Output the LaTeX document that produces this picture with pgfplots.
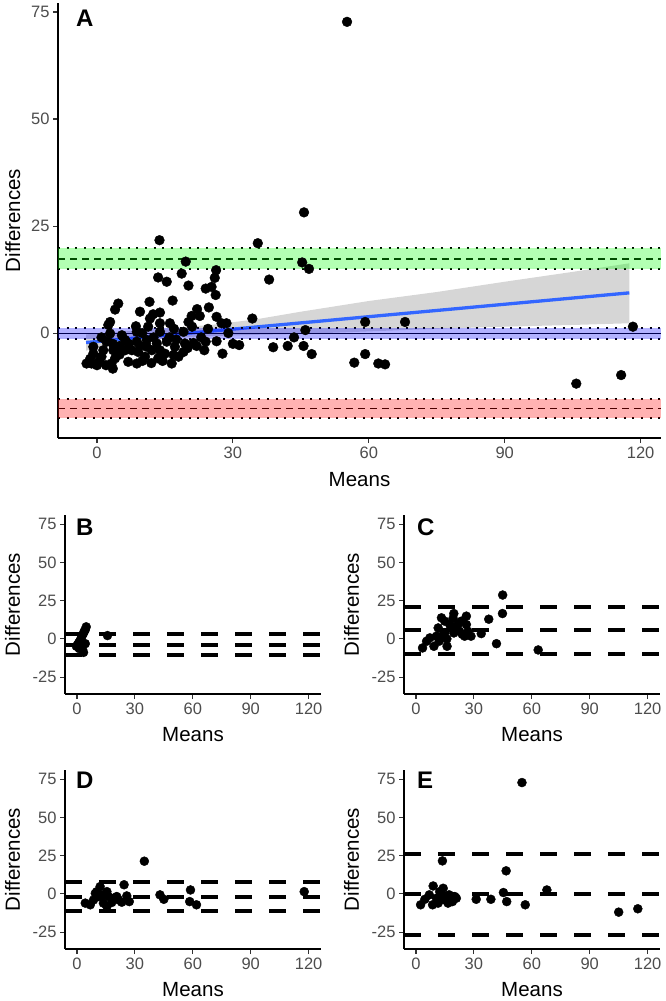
\documentclass[border=0pt]{standalone}
\usepackage{pgfplots}
\pgfplotsset{compat=1.18}
\usepackage{fontspec}
\setmainfont{Liberation Sans}
\definecolor{tickgray}{HTML}{4D4D4D}
\definecolor{smoothblue}{HTML}{3366FF}
\definecolor{bandgreen}{RGB}{0,255,0}
\definecolor{bandblue}{RGB}{0,0,255}
\definecolor{bandred}{RGB}{255,0,0}

\pgfplotsset{
 baseax/.style={
  scale only axis,
  axis lines=left,
  axis line style={-, line width=1.3pt, black},
  tick align=outside,
  major tick length=5pt,
  tick style={line width=1.1pt, color=black!80},
  xtick={0,30,60,90,120},
  tick label style={font=\fontsize{16.5}{16.5}\selectfont, color=tickgray},
  /pgf/number format/assume math mode=true,
  label style={font=\fontsize{20.5}{20.5}\selectfont, color=black},
  xlabel={Means}, ylabel={Differences},
  xlabel style={anchor=base},
  ylabel style={anchor=base},
 },
 smallax/.style={
  baseax,
  width=256pt, height=179pt,
  xmin=-6.2, xmax=126.4, ymin=-36, ymax=81,
  ytick={-25,0,25,50,75},
  yticklabels={-25,0,25,50,75},
  xlabel style={at={(axis description cs:0.5,-0.263)}},
  ylabel style={at={(axis description cs:-0.176,0.5)}},
 },
 dots/.style={only marks, mark=*, mark size=4.5pt, mark options={fill=black, draw=none}},
 bigdash/.style={black, line width=4pt, dash pattern=on 17pt off 17pt},
}

\begin{document}
\begin{tikzpicture}
\useasboundingbox (0,0) rectangle (666pt,-1001pt);

% ---------------- Panel A ----------------
\begin{axis}[baseax,
  at={(58pt,-438pt)}, anchor=south west,
  width=603pt, height=435pt,
  xmin=-8.6, xmax=124.5, ymin=-24.5, ymax=77.1,
  ytick={0,25,50,75},
  xlabel style={at={(axis description cs:0.5,-0.112)}},
  ylabel style={at={(axis description cs:-0.063,0.5)}},
]
\addplot[dots, mark size=4.9pt] coordinates {
(55.2,72.7) (45.7,28.2) (13.8,21.7) (35.5,21.0) (19.6,16.7) (45.3,16.5) (46.8,15.0)
(26.3,14.7) (18.7,13.9) (13.5,13.0) (15.4,12.0) (26.0,12.9) (38.0,12.5) (20.2,11.1)
(24.0,10.4) (25.3,10.8) (26.2,8.9) (4.7,6.9) (4.0,5.5) (11.6,7.3) (16.7,7.6) (9.5,5.0)
(22.1,5.6) (24.7,6.0) (20.9,4.0) (22.7,4.0) (12.4,4.4) (13.9,4.8) (20.2,2.6) (2.9,2.6)
(2.5,1.9) (11.7,3.4) (8.6,1.6) (11.3,1.5) (13.9,2.3) (16.1,2.3) (26.4,3.8) (27.5,2.3)
(28.6,2.3) (34.3,3.4) (2.9,-0.1) (6.2,-1.6) (8.8,0.3) (13.9,0.3) (19.1,0.3) (21.3,-2.3)
(26.4,-1.9) (23.7,-4.0) (27.7,-4.8) (31.4,-2.8) (38.9,-3.3) (42.1,-3.0) (43.5,-1.0)
(45.6,-3.0) (47.4,-4.9) (46.0,0.7) (56.8,-6.9) (59.2,-4.9) (62.1,-7.1) (63.6,-7.3)
(59.2,2.6) (68.0,2.6) (105.8,-11.8) (115.7,-9.8) (118.3,1.5)
(-2.3,-7.1) (-1.2,-7.1) (0.0,-7.5) (1.0,-5.5) (-0.8,-4.8) (1.4,-4.0) (3.2,-7.1)
(3.5,-8.3) (4.0,-5.9) (3.6,-4.0) (6.9,-6.7) (7.7,-4.0) (8.8,-7.1) (9.1,-4.4)
(10.6,-5.5) (11.0,-3.2) (12.1,-4.0) (13.5,-5.9) (13.9,-4.0) (15.0,-4.8) (16.5,-7.1)
(16.9,-5.1) (17.2,-3.2) (19.1,-4.4) (19.4,-2.4) (8.8,-2.0) (11.0,-1.6) (13.2,-2.4)
(15.4,-2.0) (6.2,-4.0) (2.1,-2.0) (-0.8,-3.2) (-1.5,-6.0) (0.5,-6.5) (2.0,-7.5)
(5.0,-5.0) (10.0,-6.5) (12.0,-7.0) (14.5,-6.5) (18.0,-5.5) (20.0,-3.5) (5.0,-3.0)
(7.0,-2.5) (9.5,-3.0) (12.5,-1.0) (16.0,-1.0) (17.5,-1.5) (22.0,-3.0) (24.0,-2.0)
(1.0,-1.0) (3.5,-2.5) (5.5,-0.5) (10.0,0.0) (17.0,1.0) (21.0,1.5) (24.5,1.0)
(23.0,-1.0) (29.0,0.0) (30.0,-2.5)
};
% regression confidence band
\addplot[draw=none, fill=black!40, fill opacity=0.4] coordinates {
(-2.4,-4.1) (5,-2.5) (15,-1.3) (25,-0.7) (35,-0.4) (45,-0.2) (60,0.4) (75,1.0)
(90,1.5) (105,1.9) (117.5,2.3) (117.5,16.3) (105,14.3) (90,12.0) (75,9.6)
(60,7.5) (45,5.0) (35,3.2) (25,1.9) (15,1.1) (5,0.3) (-2.4,-0.3)
} -- cycle;
\addplot[smoothblue, line width=3.3pt] coordinates {(-2.4,-2.2) (117.5,9.4)};
% limits of agreement (black lines under translucent bands)
\addplot[black, line width=1.6pt, dash pattern=on 6.5pt off 5.5pt] coordinates {(-8.6,17.3) (124.5,17.3)};
\addplot[black, line width=1.6pt] coordinates {(-8.6,-0.1) (124.5,-0.1)};
\addplot[black, line width=1.6pt, dash pattern=on 6.5pt off 5.5pt] coordinates {(-8.6,-17.6) (124.5,-17.6)};
\addplot[black, line width=2pt, dash pattern=on 2pt off 6.7pt] coordinates {(-8.6,19.8) (124.5,19.8)};
\addplot[black, line width=2pt, dash pattern=on 2pt off 6.7pt] coordinates {(-8.6,14.9) (124.5,14.9)};
\addplot[black, line width=2pt, dash pattern=on 2pt off 6.7pt] coordinates {(-8.6,1.2) (124.5,1.2)};
\addplot[black, line width=2pt, dash pattern=on 2pt off 6.7pt] coordinates {(-8.6,-1.4) (124.5,-1.4)};
\addplot[black, line width=2pt, dash pattern=on 2pt off 6.7pt] coordinates {(-8.6,-15.3) (124.5,-15.3)};
\addplot[black, line width=2pt, dash pattern=on 2pt off 6.7pt] coordinates {(-8.6,-19.9) (124.5,-19.9)};
\addplot[draw=none, fill=bandgreen, fill opacity=0.3] coordinates {(-8.6,14.9) (124.5,14.9) (124.5,19.8) (-8.6,19.8)} -- cycle;
\addplot[draw=none, fill=bandblue, fill opacity=0.3] coordinates {(-8.6,-1.4) (124.5,-1.4) (124.5,1.2) (-8.6,1.2)} -- cycle;
\addplot[draw=none, fill=bandred, fill opacity=0.3] coordinates {(-8.6,-19.9) (124.5,-19.9) (124.5,-15.3) (-8.6,-15.3)} -- cycle;
\end{axis}

% ---------------- Panel B ----------------
\begin{axis}[smallax, at={(65pt,-694pt)}, anchor=south west]
\addplot[dots] coordinates {
(4.8,7.9) (4.3,6.0) (3.8,5.0) (3.3,3.5) (2.6,1.8) (2.0,0.0) (1.5,-1.5) (0.9,-2.5)
(0.3,-3.7) (1.7,-4.8) (-0.3,-4.8) (2.5,-5.5) (3.4,-8.8) (4.3,-3.1) (2.9,-7.0)
(1.2,-6.3) (15.8,2.2)
};
\addplot[bigdash] coordinates {(-6.2,3.5) (126.4,3.5)};
\addplot[bigdash] coordinates {(-6.2,-3.7) (126.4,-3.7)};
\addplot[bigdash] coordinates {(-6.2,-10.7) (126.4,-10.7)};
\end{axis}

% ---------------- Panel C ----------------
\begin{axis}[smallax, at={(404pt,-694pt)}, anchor=south west]
\addplot[dots] coordinates {
(44.9,28.7) (44.8,16.6) (37.7,12.9) (63.3,-7.2) (41.7,-3.1) (33.8,3.5) (28.5,1.8)
(26.1,14.9) (26.1,9.4) (23.5,11.6) (19.6,16.6) (19.2,13.5) (17.5,9.4) (13.2,13.8)
(14.9,11.6) (11.5,7.2) (13.2,1.8) (14.9,3.9) (10.6,1.8) (7.2,0.7) (5.5,-1.5)
(3.4,-5.9) (9.3,-4.8) (16.1,-4.8) (19.6,3.9) (20.9,8.3) (22.6,5.0) (26.9,5.0)
(25.2,1.8) (12.0,-1.5) (16.0,0.0) (22.0,10.0) (24.0,3.0)
};
\addplot[bigdash] coordinates {(-6.2,21.0) (126.4,21.0)};
\addplot[bigdash] coordinates {(-6.2,5.6) (126.4,5.6)};
\addplot[bigdash] coordinates {(-6.2,-9.8) (126.4,-9.8)};
\end{axis}

% ---------------- Panel D ----------------
\begin{axis}[smallax, at={(65pt,-949pt)}, anchor=south west]
\addplot[dots] coordinates {
(34.9,21.4) (24.4,6.0) (58.8,2.6) (58.4,-5.0) (61.9,-7.1) (43.0,-0.6) (45.0,-3.5)
(117.7,1.5) (27.1,-5.0) (25.8,-1.3) (4.3,-6.0) (6.9,-7.1) (8.6,-3.9) (10.3,1.5)
(12.0,4.8) (12.9,-0.6) (13.7,-6.0) (15.5,-8.2) (16.3,-1.7) (18.9,-2.8) (21.5,-3.9)
(23.2,-5.4) (11.2,-1.7) (15.5,1.5) (9.5,0.4) (18.0,-5.6) (20.6,-1.7)
};
\addplot[bigdash] coordinates {(-6.2,8.0) (126.4,8.0)};
\addplot[bigdash] coordinates {(-6.2,-1.7) (126.4,-1.7)};
\addplot[bigdash] coordinates {(-6.2,-11.4) (126.4,-11.4)};
\end{axis}

% ---------------- Panel E ----------------
\begin{axis}[smallax, at={(404pt,-949pt)}, anchor=south west]
\addplot[dots] coordinates {
(54.9,72.8) (13.7,21.6) (46.7,15.1) (45.3,0.9) (47.0,-5.0) (56.6,-7.1) (67.8,2.6)
(31.2,-3.5) (38.8,-3.5) (105.0,-11.9) (114.9,-9.7) (2.4,-7.1) (4.6,-3.5) (6.9,-0.6)
(8.9,5.2) (8.6,-7.1) (10.6,-2.8) (12.3,1.5) (14.1,3.7) (14.9,-3.9) (17.2,-0.6)
(18.9,-5.0) (20.1,-1.7) (20.9,-2.8) (11.5,-6.0) (13.2,-1.7) (16.6,-6.0)
};
\addplot[bigdash] coordinates {(-6.2,26.3) (126.4,26.3)};
\addplot[bigdash] coordinates {(-6.2,0.0) (126.4,0.0)};
\addplot[bigdash] coordinates {(-6.2,-26.6) (126.4,-26.6)};
\end{axis}

% panel tags
\begin{scope}[every node/.style={anchor=base west, inner sep=0pt, font=\fontsize{24}{24}\selectfont\bfseries}]
\node at (76pt,-26pt) {A};
\node at (76pt,-535pt) {B};
\node at (417pt,-535pt) {C};
\node at (76pt,-788pt) {D};
\node at (417pt,-788pt) {E};
\end{scope}
\end{tikzpicture}
\end{document}
